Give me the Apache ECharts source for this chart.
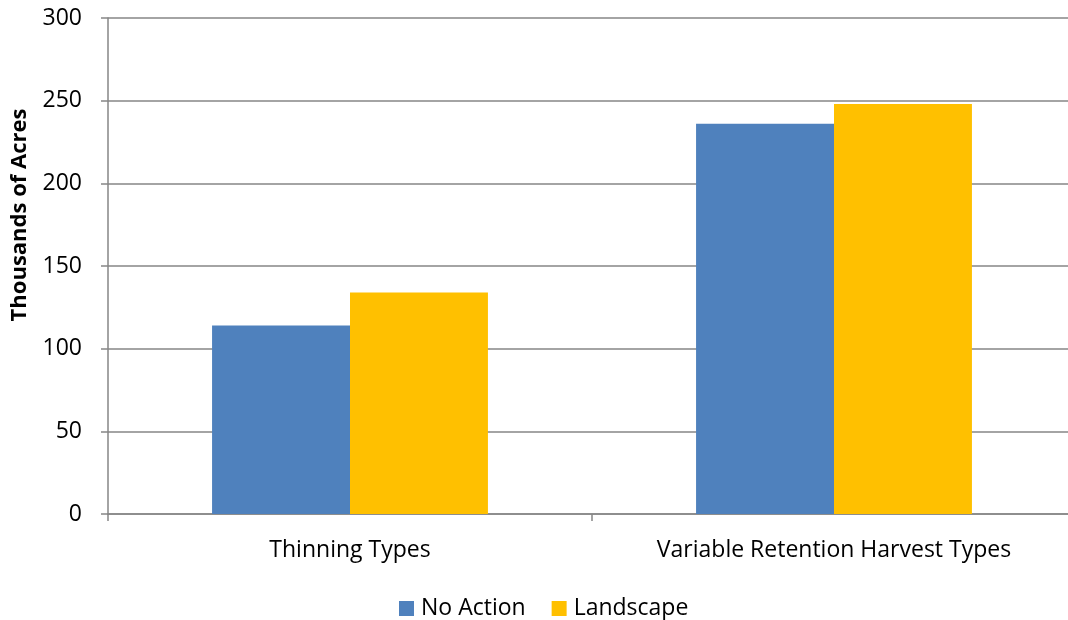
<!DOCTYPE html>
<html><head><meta charset="utf-8">
<script src="https://cdn.jsdelivr.net/npm/echarts@6/dist/echarts.min.js"></script>
<style>html,body{margin:0;padding:0;background:#fff;overflow:hidden;width:1068px;height:620px}#c{width:1076px;height:620px}</style>
</head><body><div id="c"></div>
<script>
const categories = ['Thinning Types', 'Variable Retention Harvest Types'];
const noAction = [114, 236];
const landscape = [134, 248];
const seriesNames = ['No Action', 'Landscape'];
const yTitle = 'Thousands of Acres';

const FONT = 'Open Sans';
const chart = echarts.init(document.getElementById('c'));
chart.setOption({
  animation: false,
  textStyle: {fontFamily: FONT},
  grid: {left: 108, right: 0, top: 18, height: 496, containLabel: false},
  legend: {
    top: 592, left: 394, itemWidth: 15, itemHeight: 15, itemGap: 26,
    icon: 'rect',
    textStyle: {fontSize: 23, color: '#000', fontFamily: FONT, padding: [0, 0, 0, 2]},
    data: seriesNames
  },
  graphic: [{
    type: 'text', x: 20, y: 215, rotation: Math.PI / 2,
    style: {text: yTitle, fontSize: 22, fontWeight: 'bold', fill: '#000', fontFamily: FONT,
            align: 'center', verticalAlign: 'middle'}
  }],
  xAxis: {
    type: 'category', data: categories,
    axisLine: {lineStyle: {color: '#868686', width: 1.5}},
    axisTick: {show: true, length: 7, lineStyle: {color: '#868686', width: 1.5}},
    axisLabel: {fontSize: 23, color: '#000', margin: 25, fontFamily: FONT}
  },
  yAxis: {
    type: 'value', min: 0, max: 300, interval: 50,
    axisLine: {show: true, lineStyle: {color: '#868686', width: 1.5}},
    axisTick: {show: true, length: 7, lineStyle: {color: '#868686', width: 1.5}},
    axisLabel: {fontSize: 23, color: '#000', margin: 26, fontFamily: FONT},
    splitLine: {lineStyle: {color: '#868686', width: 1.5}}
  },
  series: [
    {name: seriesNames[0], type: 'bar', data: noAction, barGap: '0%', barCategoryGap: '43%',
     itemStyle: {color: '#4F81BD'}},
    {name: seriesNames[1], type: 'bar', data: landscape, barGap: '0%', barCategoryGap: '43%',
     itemStyle: {color: '#FFC000'}}
  ]
});
</script></body></html>
